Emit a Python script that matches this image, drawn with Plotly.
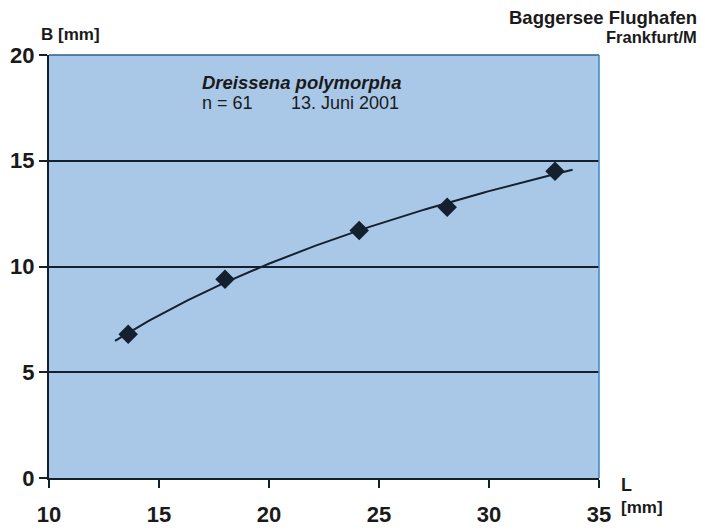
import numpy as np
import plotly.graph_objects as go

# Data
L_mm = [13.6, 18.0, 24.1, 28.1, 33.0]
B_mm = [6.8, 9.4, 11.7, 12.8, 14.5]
x_ticks = [10, 15, 20, 25, 30, 35]
y_ticks = [0, 5, 10, 15, 20]

# logarithmic trend line (fit of B against ln L)
coef = np.polyfit(np.log(L_mm), B_mm, 1)
xs = np.linspace(13.0, 33.8, 120)
ys = coef[0] * np.log(xs) + coef[1]

fnt = "Liberation Sans, Arial"
dark = "#15202e"
txt = "#1a1a1a"

# page body has an 8px margin: figure sized/offset to compensate
OFF = 8
W, H = 705 - OFF, 530 - OFF
L, R, T, B = 49 - OFF, W - (599 - OFF), 55 - OFF, H - (478 - OFF)
pw, ph = W - L - R, H - T - B

fig = go.Figure()
fig.add_trace(go.Scatter(x=xs, y=ys, mode="lines",
                         line=dict(color=dark, width=2), hoverinfo="skip"))
fig.add_trace(go.Scatter(x=L_mm, y=B_mm, mode="markers",
                         marker=dict(symbol="diamond", size=15, color=dark)))

tickfont = dict(family=fnt, size=22, color=txt, weight="bold")
fig.update_layout(
    width=W, height=H,
    margin=dict(l=L, r=R, t=T, b=B, autoexpand=False),
    paper_bgcolor="white",
    plot_bgcolor="#a9c8e8",
    showlegend=False,
    xaxis=dict(range=[10, 35], tickvals=x_ticks, ticks="outside", ticklen=8,
               tickcolor=dark, tickwidth=2, showgrid=False, zeroline=False,
               showline=True, linecolor=dark, linewidth=2, tickfont=tickfont,
               ticklabelstandoff=8),
    yaxis=dict(range=[0, 20], tickvals=y_ticks, ticks="outside", ticklen=8,
               tickcolor=dark, tickwidth=2, showgrid=True, gridcolor=dark,
               gridwidth=1.5, zeroline=False, showline=True, linecolor=dark,
               linewidth=2, tickfont=tickfont),
)

# top and right borders
fig.add_shape(type="line", xref="paper", yref="paper", x0=0, x1=1, y0=1, y1=1,
              line=dict(color="#2f5f86", width=1.5))
fig.add_shape(type="line", xref="paper", yref="paper", x0=1, x1=1, y0=0, y1=1,
              line=dict(color="#3a86c4", width=1.5))


def note(text, px, py, xanchor="left", bold=True, size=17):
    # px, py: reference-picture pixel positions
    fx = (px - OFF - L) / pw
    fy = 1 - (py - OFF - T) / ph
    fig.add_annotation(text=text, x=fx, y=fy, xref="paper", yref="paper",
                       showarrow=False, xanchor=xanchor, yanchor="middle",
                       borderpad=0, font=dict(family=fnt, size=size, color=txt,
                                              weight="bold" if bold else "normal"))


note("B [mm]", 40, 34, size=17)
note("Baggersee Flughafen", 698, 18, xanchor="right", size=18.5)
note("Frankfurt/M", 698, 37, xanchor="right", size=16.5)
note("<i>Dreissena polymorpha</i>", 201, 82, size=18.5)
note("n = 61", 201, 103, bold=False, size=18)
note("13. Juni 2001", 290, 103, bold=False, size=18)
note("L", 620, 485, size=18)
note("[mm]", 620, 507, size=17)

fig.write_html("out.html")
